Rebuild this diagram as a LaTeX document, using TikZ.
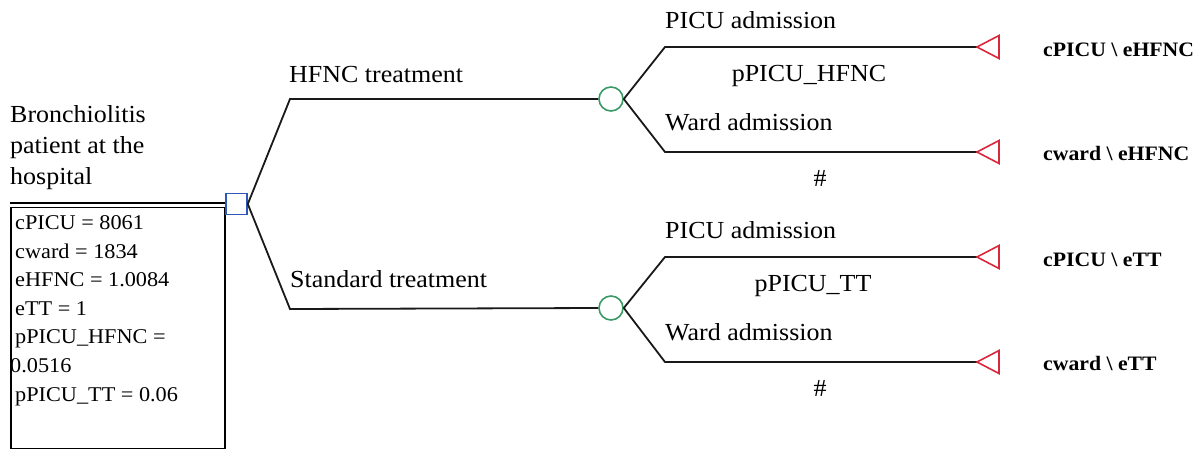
\documentclass[tikz,border=0pt]{standalone}
\usepackage{fontspec}
\setmainfont{Liberation Serif}[FakeStretch=1.06]
\usetikzlibrary{shapes.geometric}
\definecolor{decblue}{HTML}{2E58B8}
\definecolor{chgreen}{HTML}{3A9A66}
\definecolor{termred}{HTML}{D8283C}
\begin{document}
\begin{tikzpicture}[x=1pt,y=-1pt,
  txt/.style={font=\fontsize{24.5}{31}\selectfont, inner sep=0pt, anchor=base west},
  ctxt/.style={font=\fontsize{24.5}{31}\selectfont, inner sep=0pt, anchor=base},
  ttxt/.style={font=\fontsize{20.5}{25}\selectfont\bfseries, inner sep=0pt, anchor=base west},
  branch/.style={draw=black!90, line width=1.8pt},
  decbox/.style={draw=decblue, line width=1.6pt, minimum size=21pt, inner sep=0pt},
  chance/.style={draw=chgreen, line width=1.6pt, circle, minimum size=24pt, inner sep=0pt},
  term/.style={draw=termred, line width=1.6pt, fill=none}
]
\useasboundingbox (0,0) rectangle (1202,448);

% title
\node[txt] (title) at (10,122) {Bronchiolitis};
\node[txt] (title2) at (10,153) {patient at the};
\node[txt] (title3) at (10,184) {hospital};

% parameter box
\draw[line width=1.6pt] (10,203) -- (226,203);
\node[draw, line width=1.6pt, minimum width=214pt, minimum height=241pt, anchor=north west, inner sep=0pt] (pbox) at (10,206.5) {};
\begin{scope}[every node/.style={font=\fontsize{21}{28}\selectfont, inner sep=0pt, anchor=base west}]
\node (p1) at (15,229) {cPICU = 8061};
\node (p2) at (15,258) {cward = 1834};
\node (p3) at (15,286.5) {eHFNC = 1.0084};
\node (p4) at (15,315) {eTT = 1};
\node (p5) at (15,343.5) {pPICU\_HFNC =};
\node (p6) at (10,372.5) {0.0516};
\node (p7) at (15,401) {pPICU\_TT = 0.06};
\end{scope}

% decision node
\node[decbox] (dec) at (236.5,204) {};

% corners
\coordinate (cH) at (290,99);
\coordinate (cS) at (290,309);

% chance nodes
\node[chance] (chH) at (611,99) {};
\node[chance] (chS) at (611,308) {};

\draw[branch] (dec.east) -- (cH) -- (chH.west);
\draw[branch] (dec.east) -- (cS) -- (chS.west);

\node[txt] (lH) at (289,82) {HFNC treatment};
\node[txt] (lS) at (290,287) {Standard treatment};

% sub-branch corners and terminals
\coordinate (a1) at (665,47);
\coordinate (a2) at (665,152);
\coordinate (a3) at (665,257);
\coordinate (a4) at (665,362);

\coordinate (t1) at (977,47);
\coordinate (t2) at (977,152);
\coordinate (t3) at (977,257);
\coordinate (t4) at (977,362);

\draw[branch] (chH.east) -- (a1) -- (t1);
\draw[branch] (chH.east) -- (a2) -- (t2);
\draw[branch] (chS.east) -- (a3) -- (t3);
\draw[branch] (chS.east) -- (a4) -- (t4);

\foreach \t in {t1,t2,t3,t4}{
  \draw[term] (\t) -- ++(22,-11.5) -- ++(0,23) -- cycle;
}

% branch labels
\node[txt] (u1) at (665,28) {PICU admission};
\node[ctxt] (pr1) at (809,81) {pPICU\_HFNC};
\node[txt] (w1) at (665,130) {Ward admission};
\node[ctxt] (h1) at (820,186) {\#};

\node[txt] (u2) at (665,238) {PICU admission};
\node[ctxt] (pr2) at (813,291) {pPICU\_TT};
\node[txt] (w2) at (665,340) {Ward admission};
\node[ctxt] (h2) at (820,396) {\#};

% terminal labels
\node[ttxt] (v1) at (1043,56) {cPICU \textbackslash{} eHFNC};
\node[ttxt] (v2) at (1043,160) {cward \textbackslash{} eHFNC};
\node[ttxt] (v3) at (1043,266) {cPICU \textbackslash{} eTT};
\node[ttxt] (v4) at (1043,370) {cward \textbackslash{} eTT};
\end{tikzpicture}
\end{document}
